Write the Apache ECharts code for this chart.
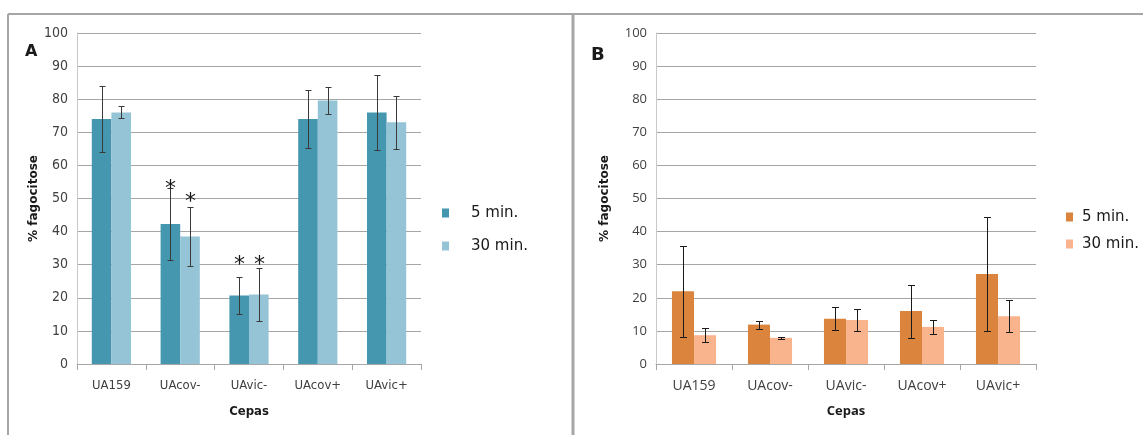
<!DOCTYPE html>
<html>
<head>
<meta charset="utf-8">
<script src="https://cdn.jsdelivr.net/npm/echarts@6/dist/echarts.min.js"></script>
<style>
  html, body { margin: 0; padding: 0; background: #fff; }
  #chart { width: 1143px; height: 435px; }
</style>
</head>
<body>
<div id="chart"></div>
<script>
// Strains on the x axis, shared by both panels
const categories = ['UA159', 'UAcov-', 'UAvic-', 'UAcov+', 'UAvic+'];
const yTicks = [0, 10, 20, 30, 40, 50, 60, 70, 80, 90, 100];

// Panel A: % phagocytosis (mean and error)
const a5 = [74, 42.3, 20.7, 74, 76];
const a5Err = [10, 11, 5.7, 8.7, 11.2];
const a30 = [76, 38.5, 21, 79.6, 73];
const a30Err = [1.8, 8.8, 7.9, 4.2, 8.1];
// Significance marks (level where the asterisk sits)
const a5Stars = [null, 54, 31, null, null];
const a30Stars = [null, 50, 31, null, null];

// Panel B: % phagocytosis (mean and error)
const b5 = [22, 11.9, 13.7, 16, 27.2];
const b5Err = [13.7, 1.2, 3.4, 8, 17.3];
const b30 = [8.7, 7.9, 13.3, 11.2, 14.4];
const b30Err = [2.2, 0.2, 3.3, 2.1, 4.8];

const seriesNames = ['5 min.', '30 min.'];

const A_DARK = '#4597AF', A_LIGHT = '#95C4D6';
const B_DARK = '#DB843D', B_LIGHT = '#F9B48E';
const GAP_A = 0.43, GAP_B = 0.42;

function errorBars(axisIdx, values, errs, stars, side, gapRatio, color, cap) {
  return {
    type: 'custom',
    xAxisIndex: axisIdx,
    yAxisIndex: axisIdx,
    z: 5,
    silent: true,
    encode: { x: 0, y: [1, 2] },
    data: values.map((v, i) => [i, v - errs[i], v + errs[i]]),
    renderItem(params, api) {
      const i = api.value(0);
      const lo = api.coord([i, api.value(1)]);
      const hi = api.coord([i, api.value(2)]);
      const barW = api.size([1, 0])[0] * (1 - gapRatio) / 2;
      const x = Math.round(lo[0] + side * barW / 2) + 0.5;
      const yl = Math.round(lo[1]) + 0.5, yh = Math.round(hi[1]) + 0.5;
      const style = { stroke: color, lineWidth: 1 };
      const children = [
        { type: 'line', shape: { x1: x, y1: yl, x2: x, y2: yh }, style },
        { type: 'line', shape: { x1: x - cap, y1: yl, x2: x + cap, y2: yl }, style },
        { type: 'line', shape: { x1: x - cap, y1: yh, x2: x + cap, y2: yh }, style }
      ];
      if (stars && stars[i] != null) {
        const s = api.coord([i, stars[i]]);
        children.push({
          type: 'text', x: x, y: s[1] + 4,
          style: { text: '*', fill: '#1a1a1a', font: '22px "DejaVu Sans"', align: 'center', verticalAlign: 'middle' }
        });
      }
      return { type: 'group', children };
    }
  };
}

function yAxisFor(gridIndex, labelFont, nameGap) {
  return {
    type: 'value', gridIndex, min: 0, max: 100, interval: 10,
    name: '% fagocitose', nameLocation: 'middle', nameGap,
    nameTextStyle: { fontFamily: 'DejaVu Sans', fontWeight: 'bold', fontSize: 12, color: '#1a1a1a' },
    axisLine: { show: true, lineStyle: { color: '#C8C8C8' } },
    axisTick: { show: false },
    axisLabel: {
      fontFamily: labelFont.family, fontSize: labelFont.size, color: '#404040', margin: 9,
      formatter: v => (yTicks.includes(v) ? String(v) : '')
    },
    splitLine: { lineStyle: { color: '#A6A6A6' } }
  };
}

function xAxisFor(gridIndex, labelFont, nameFont) {
  return {
    type: 'category', gridIndex, data: categories,
    name: 'Cepas', nameLocation: 'middle', nameGap: 41,
    nameTextStyle: { fontFamily: nameFont, fontWeight: 'bold', fontSize: 13, color: '#1a1a1a' },
    axisLine: { lineStyle: { color: '#A6A6A6' } },
    axisTick: { show: true, length: 6, lineStyle: { color: '#A6A6A6' } },
    axisLabel: { fontFamily: labelFont.family, fontSize: labelFont.size, color: '#404040', margin: 15 }
  };
}

function legendFor(left, top, itemGap, padLeft, colors) {
  return {
    left, top, orient: 'vertical', icon: 'rect', itemWidth: 7, itemHeight: 9, itemGap,
    selectedMode: false,
    data: seriesNames.map((n, k) => ({ name: n, itemStyle: { color: colors[k] } })),
    textStyle: { fontFamily: 'DejaVu Sans', fontSize: 15, color: '#1a1a1a', lineHeight: 18, padding: [0, 0, 0, padLeft] }
  };
}

const narrow = '"Liberation Sans Narrow", "DejaVu Sans Condensed", "Liberation Sans", sans-serif';

const option = {
  animation: false,
  backgroundColor: '#ffffff',
  title: [
    { text: 'A', left: 20, top: 39, textStyle: { fontFamily: 'DejaVu Sans', fontWeight: 'bold', fontSize: 16, color: '#1a1a1a' } },
    { text: 'B', left: 586, top: 41, textStyle: { fontFamily: 'DejaVu Sans', fontWeight: 'bold', fontSize: 18, color: '#1a1a1a' } }
  ],
  legend: [
    legendFor(437, 199, 15, 17, [A_DARK, A_LIGHT]),
    legendFor(1061, 203, 9, 4, [B_DARK, B_LIGHT])
  ],
  grid: [
    { left: 77, top: 33, width: 344, height: 331, containLabel: false, outerBoundsMode: 'none' },
    { left: 656, top: 33, width: 380, height: 331, containLabel: false, outerBoundsMode: 'none' }
  ],
  xAxis: [
    xAxisFor(0, { family: narrow, size: 13 }, narrow),
    xAxisFor(1, { family: '"Open Sans", sans-serif', size: 14 }, '"Open Sans", sans-serif')
  ],
  yAxis: [
    yAxisFor(0, { family: narrow, size: 14 }, 34),
    yAxisFor(1, { family: '"Open Sans", sans-serif', size: 13 }, 45)
  ],
  series: [
    { type: 'bar', name: seriesNames[0], xAxisIndex: 0, yAxisIndex: 0, data: a5,
      barGap: '0%', barCategoryGap: (GAP_A * 100) + '%', itemStyle: { color: A_DARK } },
    { type: 'bar', name: seriesNames[1], xAxisIndex: 0, yAxisIndex: 0, data: a30,
      barGap: '0%', barCategoryGap: (GAP_A * 100) + '%', itemStyle: { color: A_LIGHT } },
    { type: 'bar', name: seriesNames[0], xAxisIndex: 1, yAxisIndex: 1, data: b5,
      barGap: '0%', barCategoryGap: (GAP_B * 100) + '%', itemStyle: { color: B_DARK } },
    { type: 'bar', name: seriesNames[1], xAxisIndex: 1, yAxisIndex: 1, data: b30,
      barGap: '0%', barCategoryGap: (GAP_B * 100) + '%', itemStyle: { color: B_LIGHT } },
    errorBars(0, a5, a5Err, a5Stars, -1, GAP_A, '#3a3a3a', 3),
    errorBars(0, a30, a30Err, a30Stars, 1, GAP_A, '#3a3a3a', 3),
    errorBars(1, b5, b5Err, null, -1, GAP_B, '#1a1a1a', 3.5),
    errorBars(1, b30, b30Err, null, 1, GAP_B, '#1a1a1a', 3.5)
  ],
  graphic: [
    { type: 'line', silent: true, shape: { x1: 8, y1: 14, x2: 1143, y2: 14 }, style: { stroke: '#A6A6A6', lineWidth: 2 } },
    { type: 'line', silent: true, shape: { x1: 8, y1: 14, x2: 8, y2: 435 }, style: { stroke: '#A6A6A6', lineWidth: 2 } },
    { type: 'line', silent: true, shape: { x1: 573, y1: 14, x2: 573, y2: 435 }, style: { stroke: '#A6A6A6', lineWidth: 3 } }
  ]
};

const chart = echarts.init(document.getElementById('chart'), null, { renderer: 'canvas' });
chart.setOption(option);
</script>
</body>
</html>
